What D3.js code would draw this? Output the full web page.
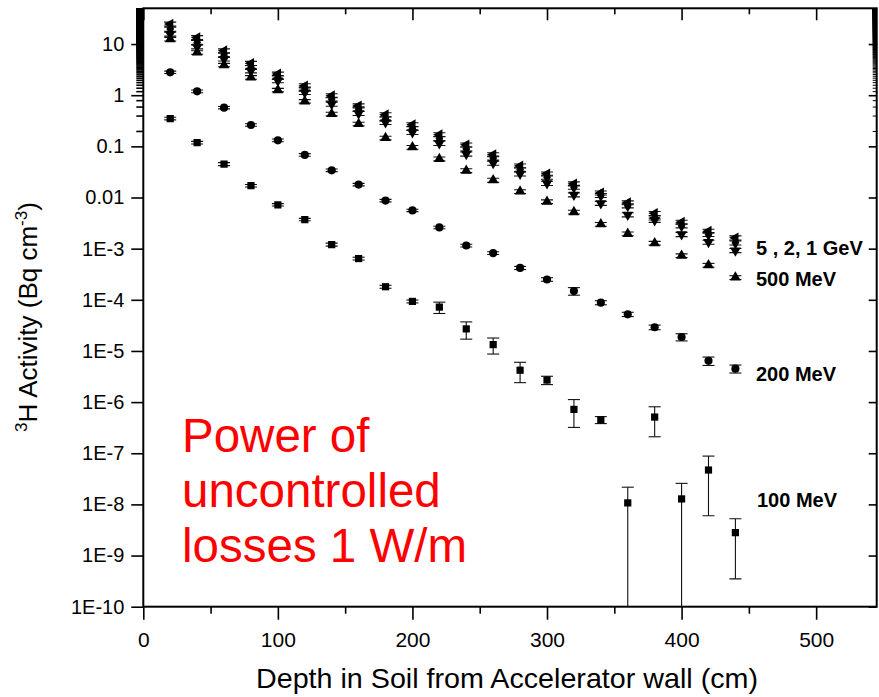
<!DOCTYPE html>
<html>
<head>
<meta charset="utf-8">
<script src="https://cdn.jsdelivr.net/npm/d3@7"></script>
<style>
    html, body { margin: 0; padding: 0; background: #fff; }
    svg { display: block; font-family: "Liberation Sans", Arial, sans-serif; }
</style>
</head>
<body>
<script>
(function tritiumChart() {
    'use strict';

    /* data */

    var depth = [20, 40, 60, 80, 100, 120, 140, 160, 180, 200, 220, 240, 260, 280, 300, 320, 340, 360, 380, 400, 420, 440];

    var act100MeV = [0.35, 0.118, 0.045, 0.017, 0.0072, 0.0037, 0.0012, 6.4e-4, 1.8e-4, 9.3e-5, 7.2e-5, 2.7e-5, 1.33e-5, 4.2e-6, 2.7e-6, 7.2e-7, 4.5e-7, 1.07e-8, 5.1e-7, 1.28e-8, 4.7e-8, 2.8e-9];
    var err100MeV = [0.02, 0.007, 0.003, 0.001, 4e-4, 2e-4, 8e-5, 4e-5, 1.2e-5, 6e-6, 1.8e-5, 1e-5, 4.6e-6, 1.8e-6, 5e-7, 4e-7, 7e-8, 1.1e-8, 3e-7, 1.3e-8, 4.1e-8, 2.45e-9];

    var act200MeV = [2.8, 1.19, 0.57, 0.262, 0.131, 0.068, 0.034, 0.0179, 0.0087, 0.0056, 0.0026, 0.00115, 8.2e-4, 4.2e-4, 2.5e-4, 1.48e-4, 8.8e-5, 5.2e-5, 2.9e-5, 1.87e-5, 6.4e-6, 4.5e-6];
    var err200MeV = [0.15, 0.07, 0.03, 0.015, 0.008, 0.004, 0.002, 0.001, 5e-4, 3e-4, 1.5e-4, 7e-5, 5e-5, 3e-5, 2e-5, 2.5e-5, 8e-6, 5e-6, 3e-6, 3e-6, 1.2e-6, 8e-7];

    var act500MeV = [12.5, 6.85, 3.89, 2.23, 1.26, 0.76, 0.43, 0.274, 0.146, 0.096, 0.057, 0.0336, 0.0218, 0.0131, 0.0083, 0.0052, 0.003, 0.00195, 0.00128, 7.3e-4, 4.75e-4, 2.73e-4];
    var err500MeV = [1.0, 0.55, 0.3, 0.18, 0.1, 0.06, 0.035, 0.022, 0.012, 0.008, 0.005, 0.003, 0.002, 0.0011, 7e-4, 4.5e-4, 2.5e-4, 1.6e-4, 1.1e-4, 6e-5, 4e-5, 2.3e-5];

    var act1GeV = [15.7, 8.85, 5.1, 3.0, 1.92, 1.13, 0.67, 0.44, 0.294, 0.188, 0.115, 0.071, 0.047, 0.029, 0.019, 0.0113, 0.0077, 0.0046, 0.0036, 0.0019, 0.00134, 9.2e-4];
    var err1GeV = [1.4, 0.8, 0.45, 0.27, 0.17, 0.1, 0.06, 0.04, 0.027, 0.017, 0.011, 0.0065, 0.0043, 0.0027, 0.0018, 0.001, 7e-4, 4.2e-4, 3.3e-4, 1.8e-4, 1.2e-4, 8.5e-5];

    var act2GeV = [19.6, 10.7, 6.1, 3.5, 2.23, 1.32, 0.84, 0.54, 0.343, 0.225, 0.143, 0.089, 0.059, 0.035, 0.025, 0.0159, 0.011, 0.0069, 0.004, 0.0028, 0.0019, 0.0013];
    var err2GeV = [1.8, 1.0, 0.55, 0.32, 0.2, 0.12, 0.075, 0.05, 0.031, 0.02, 0.013, 0.008, 0.0053, 0.0032, 0.0023, 0.0014, 0.001, 6.2e-4, 3.6e-4, 2.5e-4, 1.7e-4, 1.2e-4];

    var act5GeV = [24.6, 13.4, 7.4, 4.2, 2.6, 1.53, 0.98, 0.62, 0.417, 0.265, 0.169, 0.107, 0.069, 0.0415, 0.029, 0.0185, 0.0123, 0.0079, 0.0049, 0.0033, 0.0022, 0.00163];
    var err5GeV = [2.2, 1.2, 0.66, 0.38, 0.23, 0.14, 0.09, 0.056, 0.038, 0.024, 0.015, 0.0096, 0.0062, 0.0037, 0.0026, 0.0017, 0.0011, 7e-4, 4.4e-4, 3e-4, 2e-4, 1.5e-4];

    var xMajorTicks = [0, 100, 200, 300, 400, 500];
    var xMinorTicks = [50, 150, 250, 350, 450];
    var yMajorTicks = [1e-10, 1e-9, 1e-8, 1e-7, 1e-6, 1e-5, 1e-4, 1e-3, 0.01, 0.1, 1, 10];
    var yTickLabels = ['1E-10', '1E-9', '1E-8', '1E-7', '1E-6', '1E-5', '1E-4', '1E-3', '0.01', '0.1', '1', '10'];

    var seriesLabels = ['100 MeV', '200 MeV', '500 MeV', '1 GeV', '2 GeV', '5 GeV'];

    /* layout */

    var width = 879, height = 697;
    var plot = { left: 143.3, right: 876.7, top: 8.3, bottom: 606.7 };

    var x = d3.scaleLinear().domain([0, 545]).range([plot.left, plot.right]);
    var y = d3.scaleLog().domain([1e-10, 50]).range([plot.bottom, plot.top]);

    var svg = d3.select('body').append('svg')
        .attr('width', width)
        .attr('height', height)
    ;

    svg.append('clipPath').attr('id', 'plot-clip')
        .append('rect')
        .attr('x', plot.left).attr('y', plot.top)
        .attr('width', plot.right - plot.left)
        .attr('height', plot.bottom - plot.top)
    ;

    /* axes */

    var yMinorTicks = y.ticks(300).filter(function (v) {
        return Math.abs(Math.log10(v) - Math.round(Math.log10(v))) > 1e-6;
    });

    function styleAxis(g) {
        g.select('.domain').remove();
        g.selectAll('.tick line').attr('stroke', '#000').attr('stroke-width', 1.6);
        g.selectAll('.tick text').attr('fill', '#000');
    }

    // --- bottom
    svg.append('g')
        .attr('transform', 'translate(0,' + plot.bottom + ')')
        .call(d3.axisBottom(x).tickValues(xMajorTicks).tickSize(13).tickPadding(12).tickFormat(d3.format('d')))
        .call(styleAxis)
        .attr('font-size', 21)
        .attr('font-family', null)
    ;
    svg.append('g')
        .attr('transform', 'translate(0,' + plot.bottom + ')')
        .call(d3.axisBottom(x).tickValues(xMinorTicks).tickSize(7).tickFormat(''))
        .call(styleAxis)
    ;

    // --- top (inward)
    svg.append('g')
        .attr('transform', 'translate(0,' + plot.top + ')')
        .call(d3.axisTop(x).tickValues(xMajorTicks).tickSize(-12).tickFormat(''))
        .call(styleAxis)
    ;
    svg.append('g')
        .attr('transform', 'translate(0,' + plot.top + ')')
        .call(d3.axisTop(x).tickValues(xMinorTicks).tickSize(-6).tickFormat(''))
        .call(styleAxis)
    ;

    // --- left
    svg.append('g')
        .attr('transform', 'translate(' + plot.left + ',0)')
        .call(d3.axisLeft(y).tickValues(yMajorTicks).tickSize(12).tickPadding(7)
            .tickFormat(function (d, i) { return yTickLabels[i]; }))
        .call(styleAxis)
        .attr('font-size', 20)
        .attr('font-family', null)
    ;
    svg.append('g')
        .attr('transform', 'translate(' + plot.left + ',0)')
        .call(d3.axisLeft(y).tickValues(yMinorTicks).tickSize(7).tickFormat(''))
        .call(styleAxis)
    ;

    // --- right (inward)
    svg.append('g')
        .attr('transform', 'translate(' + plot.right + ',0)')
        .call(d3.axisRight(y).tickValues(yMajorTicks).tickSize(-8).tickFormat(''))
        .call(styleAxis)
    ;
    svg.append('g')
        .attr('transform', 'translate(' + plot.right + ',0)')
        .call(d3.axisRight(y).tickValues(yMinorTicks).tickSize(-4).tickFormat(''))
        .call(styleAxis)
        .selectAll('.tick line').attr('stroke-width', 1)
    ;

    // --- frame
    svg.append('rect')
        .attr('x', plot.left).attr('y', plot.top)
        .attr('width', plot.right - plot.left)
        .attr('height', plot.bottom - plot.top)
        .attr('fill', 'none')
        .attr('stroke', '#000')
        .attr('stroke-width', 2)
    ;

    /* axis titles */

    svg.append('text')
        .attr('x', (plot.left + plot.right) / 2 - 3)
        .attr('y', 688)
        .attr('text-anchor', 'middle')
        .attr('font-size', 28)
        .attr('textLength', 502)
        .attr('lengthAdjust', 'spacingAndGlyphs')
        .text('Depth in Soil from Accelerator wall (cm)')
    ;

    var yTitle = svg.append('text')
        .attr('transform', 'translate(37,317) rotate(-90)')
        .attr('text-anchor', 'middle')
        .attr('font-size', 26)
    ;
    yTitle.append('tspan').attr('font-size', 17).attr('dy', -10).text('3');
    yTitle.append('tspan').attr('dy', 10).text('H Activity (Bq cm');
    yTitle.append('tspan').attr('font-size', 17).attr('dy', -10).text('-3');
    yTitle.append('tspan').attr('dy', 10).text(')');

    /* series */

    var series = [
        { label: seriesLabels[0], values: act100MeV, errors: err100MeV, shape: d3.symbolSquare, size: 52, angle: 0 },
        { label: seriesLabels[1], values: act200MeV, errors: err200MeV, shape: d3.symbolCircle, size: 52, angle: 0 },
        { label: seriesLabels[2], values: act500MeV, errors: err500MeV, shape: d3.symbolTriangle, size: 50, angle: 0 },
        { label: seriesLabels[3], values: act1GeV, errors: err1GeV, shape: d3.symbolTriangle, size: 50, angle: 180 },
        { label: seriesLabels[4], values: act2GeV, errors: err2GeV, shape: d3.symbolDiamond, size: 50, angle: 0 },
        { label: seriesLabels[5], values: act5GeV, errors: err5GeV, shape: d3.symbolTriangle, size: 50, angle: -90 }
    ];

    var layer = svg.append('g').attr('clip-path', 'url(#plot-clip)');

    series.forEach(function (s) {
        var pts = depth.map(function (d, i) {
            return { depth: d, value: s.values[i], err: s.errors[i] };
        });

        var g = layer.append('g').attr('class', 'series');

        // --- error bars (lower end runs off the axis when value - err <= 0)
        var bars = g.selectAll('g.err').data(pts).enter().append('g').attr('class', 'err')
            .attr('stroke', '#111')
            .attr('stroke-width', 1.1)
        ;
        bars.append('line')
            .attr('x1', function (d) { return x(d.depth); })
            .attr('x2', function (d) { return x(d.depth); })
            .attr('y1', function (d) { return y(d.value + d.err); })
            .attr('y2', function (d) { return d.value - d.err > 0 ? y(d.value - d.err) : plot.bottom + 5; })
        ;
        bars.append('line')
            .attr('x1', function (d) { return x(d.depth) - 6; })
            .attr('x2', function (d) { return x(d.depth) + 6; })
            .attr('y1', function (d) { return y(d.value + d.err); })
            .attr('y2', function (d) { return y(d.value + d.err); })
        ;
        bars.filter(function (d) { return d.value - d.err > 0; })
            .append('line')
            .attr('x1', function (d) { return x(d.depth) - 6; })
            .attr('x2', function (d) { return x(d.depth) + 6; })
            .attr('y1', function (d) { return y(d.value - d.err); })
            .attr('y2', function (d) { return y(d.value - d.err); })
        ;

        // --- markers
        g.selectAll('path.marker').data(pts).enter().append('path')
            .attr('class', 'marker')
            .attr('d', d3.symbol(s.shape, s.size))
            .attr('transform', function (d) {
                return 'translate(' + x(d.depth) + ',' + y(d.value) + ') rotate(' + s.angle + ')';
            })
            .attr('fill', '#000')
        ;
    });

    /* labels */

    var labels = [
        { text: '5 , 2, 1 GeV', x: 756, y: 255 },
        { text: '500 MeV', x: 756, y: 286 },
        { text: '200 MeV', x: 756, y: 381 },
        { text: '100 MeV', x: 757, y: 507 }
    ];

    svg.selectAll('text.series-label').data(labels).enter().append('text')
        .attr('class', 'series-label')
        .attr('x', function (d) { return d.x; })
        .attr('y', function (d) { return d.y; })
        .attr('font-size', 20)
        .attr('font-weight', 'bold')
        .text(function (d) { return d.text; })
    ;

    var note = ['Power of', 'uncontrolled', 'losses 1 W/m'];
    svg.selectAll('text.note').data(note).enter().append('text')
        .attr('class', 'note')
        .attr('x', 182)
        .attr('y', function (d, i) { return 452 + i * 55; })
        .attr('font-size', 47.5)
        .attr('fill', '#ff0000')
        .text(function (d) { return d; })
    ;
})();
</script>
</body>
</html>
